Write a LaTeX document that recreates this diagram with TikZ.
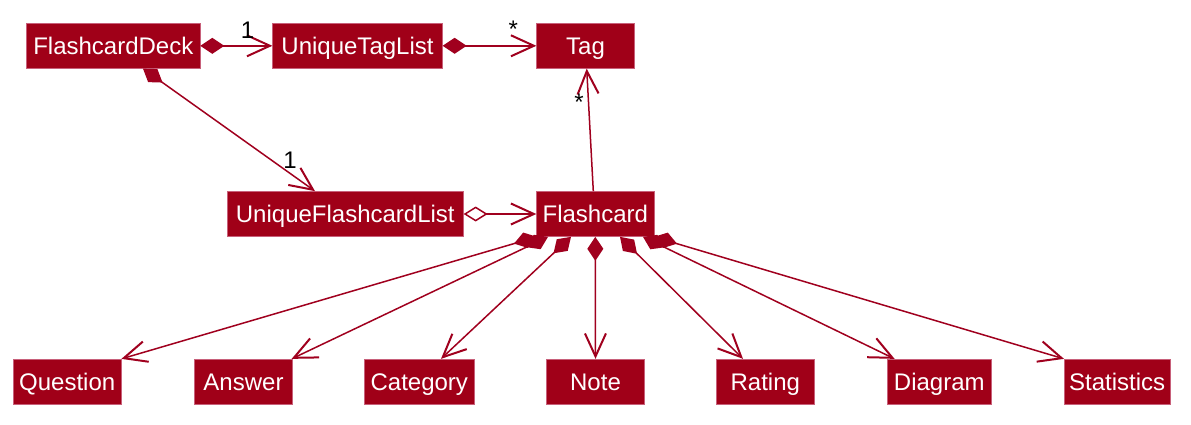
\documentclass[tikz,border=0pt]{standalone}
\usepackage{fontspec}
\setmainfont{Liberation Sans}
\usetikzlibrary{arrows.meta}
\definecolor{boxc}{HTML}{A00018}
\definecolor{edgec}{HTML}{A0001E}
\definecolor{bordc}{HTML}{C8607A}
\begin{document}
\begin{tikzpicture}[x=1pt,y=-1pt,
  cls/.style={fill=boxc, draw=bordc, line width=0.7pt, text=white, inner sep=0pt,
    minimum height=45pt, text height=17.2pt, text depth=0pt,
    font=\fontsize{24}{28}\selectfont},
  lbl/.style={anchor=base, inner sep=0pt, font=\fontsize{24}{28}\selectfont, text=black},
  comp/.style={draw=edgec, line width=1.5pt,
    {Diamond[length=24pt,width=16pt]}-{Straight Barb[length=23pt,width=21pt,line width=2pt]}},
  aggr/.style={draw=edgec, line width=1.5pt,
    {Diamond[open,fill=white,length=24pt,width=15pt]}-{Straight Barb[length=23pt,width=21pt,line width=2pt]}},
  assoc/.style={draw=edgec, line width=1.5pt,
    -{Straight Barb[length=23pt,width=21pt,line width=2pt]}}]
\useasboundingbox (0,0) rectangle (1191,425);
% top row
\node[cls, minimum width=173.3pt] (fd)  at (113.3,45.8) {FlashcardDeck};
\node[cls, minimum width=169.6pt] (utl) at (357.5,45.8) {UniqueTagList};
\node[cls, minimum width=97.6pt]  (tag) at (585.5,45.8) {Tag};
% middle row
\node[cls, minimum width=236pt]   (ufl) at (345.3,214) {UniqueFlashcardList};
\node[cls, minimum width=117.3pt] (fc)  at (595.3,214) {Flashcard};
% bottom row
\node[cls, minimum width=107.7pt] (q)    at (67.2,381.7)   {Question};
\node[cls, minimum width=97.6pt]  (a)    at (243.5,381.7)  {Answer};
\node[cls, minimum width=109.3pt] (cat)  at (419.3,381.7)  {Category};
\node[cls, minimum width=97.6pt]  (note) at (595.5,381.7)  {Note};
\node[cls, minimum width=97.3pt]  (rat)  at (765.3,381.7)  {Rating};
\node[cls, minimum width=103.3pt] (dia)  at (939.3,381.7)  {Diagram};
\node[cls, minimum width=105.7pt] (st)   at (1117.2,381.7) {Statistics};
% connectors
\draw[comp] (fd.east) -- (utl.west);
\draw[comp] (utl.east) -- (tag.west);
\draw[comp] ([xshift=29.7pt]fd.south) -- ([xshift=-30.3pt]ufl.north);
\draw[aggr] (ufl.east) -- (fc.west);
\draw[assoc] ([xshift=-2pt]fc.north) -- ([xshift=1.2pt]tag.south);
\draw[comp] ([xshift=-58.3pt]fc.south) -- (q.north east);
\draw[comp] ([xshift=-47.3pt]fc.south) -- ([xshift=-1pt]a.north east);
\draw[comp] ([xshift=-24.3pt]fc.south) -- ([xshift=21.7pt]cat.north);
\draw[comp] (fc.south) -- (note.north);
\draw[comp] ([xshift=24.7pt]fc.south) -- ([xshift=-22.3pt]rat.north);
\draw[comp] ([xshift=47.7pt]fc.south) -- ([xshift=7.3pt]dia.north west);
\draw[comp] ([xshift=58.7pt]fc.south) -- (st.north west);
% multiplicities
\node[lbl] (m1) at (247.5,38.3) {1};
\node[lbl] (m2) at (513.3,37.1) {*};
\node[lbl] (m3) at (290,168.3) {1};
\node[lbl] (m4) at (579,111) {*};
\end{tikzpicture}
\end{document}
